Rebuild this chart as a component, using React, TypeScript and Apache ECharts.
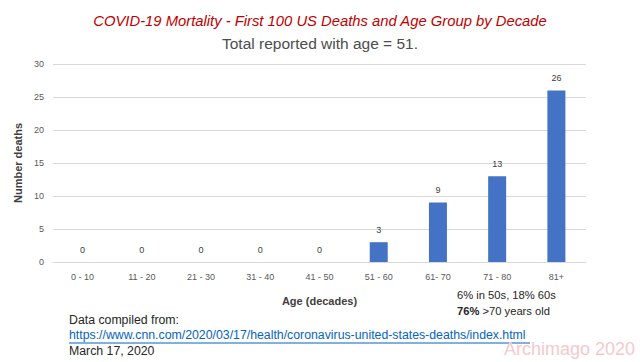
import React, { useEffect, useRef } from "react";
import * as echarts from "echarts";

const categories = ["0 - 10", "11 - 20", "21 - 30", "31 - 40", "41 - 50", "51 - 60", "61- 70", "71 - 80", "81+"];
const deaths = [0, 0, 0, 0, 0, 3, 9, 13, 26];
const yTicks = { min: 0, max: 30, interval: 5 };
const titleText = "COVID-19 Mortality - First 100 US Deaths and Age Group by Decade";
const subtitleText = "Total reported with age = 51.";
const noteLine1 = "6% in 50s, 18% 60s";
const noteBold = "76%";
const noteRest = " >70 years old";
const sourceLines = ["Data compiled from:", "https://www.cnn.com/2020/03/17/health/coronavirus-united-states-deaths/index.html", "March 17, 2020"];
const watermark = "Archimago 2020";

const FONT = "'Liberation Sans', Arial, sans-serif";

export default function App() {
  const ref = useRef<HTMLDivElement>(null);
  useEffect(() => {
    if (!ref.current) return;
    const chart = echarts.init(ref.current, null, { renderer: "svg" });
    chart.setOption({
      animation: false,
      backgroundColor: "#ffffff",
      title: {
        text: titleText,
        subtext: subtitleText,
        left: "center",
        top: 8,
        itemGap: 7,
        textStyle: { color: "#C00000", fontStyle: "italic", fontSize: 14.8, fontWeight: "normal", fontFamily: FONT },
        subtextStyle: { color: "#4d4d4d", fontSize: 15.5, fontFamily: FONT },
      },
      grid: { left: 53, right: 54, top: 64, bottom: 100 },
      xAxis: {
        type: "category",
        data: categories,
        name: "Age (decades)",
        nameLocation: "middle",
        nameGap: 33,
        nameTextStyle: { color: "#404040", fontWeight: "bold", fontSize: 11, fontFamily: FONT },
        axisLine: { lineStyle: { color: "#d9d9d9" } },
        axisTick: { show: false },
        axisLabel: { color: "#595959", fontSize: 9, margin: 10, fontFamily: FONT },
      },
      yAxis: {
        type: "value",
        min: yTicks.min,
        max: yTicks.max,
        interval: yTicks.interval,
        name: "Number deaths",
        nameLocation: "middle",
        nameGap: 26,
        nameRotate: 90,
        nameTextStyle: { color: "#404040", fontWeight: "bold", fontSize: 11, fontFamily: FONT },
        axisLine: { show: false },
        axisTick: { show: false },
        axisLabel: { color: "#595959", fontSize: 9, margin: 9, fontFamily: FONT },
        splitLine: { lineStyle: { color: "#d9d9d9" } },
      },
      series: [
        {
          type: "bar",
          data: deaths,
          barWidth: 18,
          itemStyle: { color: "#4472C4" },
          label: { show: true, position: "top", distance: 8, color: "#404040", fontSize: 9, fontFamily: FONT },
        },
      ],
      graphic: [
        {
          type: "text",
          left: 457,
          top: 289,
          style: { text: noteLine1, fill: "#262626", fontSize: 11.2, fontFamily: FONT },
        },
        {
          type: "text",
          left: 457,
          top: 305,
          style: {
            text: "{b|" + noteBold + "}{r|" + noteRest + "}",
            fontSize: 11.2,
            fontFamily: FONT,
            rich: {
              b: { fontWeight: "bold", fill: "#262626", fontSize: 11.2, fontFamily: FONT },
              r: { fill: "#262626", fontSize: 11.2, fontFamily: FONT },
            },
          },
        },
        {
          type: "text",
          left: 69,
          top: 314,
          style: { text: sourceLines[0], fill: "#262626", fontSize: 12.3, fontFamily: FONT },
        },
        {
          type: "text",
          left: 69,
          top: 329,
          style: { text: sourceLines[1], fill: "#0563C1", fontSize: 12.3, fontFamily: FONT },
        },
        {
          type: "line",
          shape: { x1: 69, y1: 343, x2: 530, y2: 343 },
          style: { stroke: "#0563C1", lineWidth: 1 },
        },
        {
          type: "text",
          left: 69,
          top: 345,
          style: { text: sourceLines[2], fill: "#262626", fontSize: 12.3, fontFamily: FONT },
        },
        {
          type: "text",
          right: 5,
          top: 340,
          style: { text: watermark, fill: "#f4c9cd", fontSize: 18, fontFamily: FONT },
        },
      ],
    });
    return () => chart.dispose();
  }, []);
  return <div ref={ref} style={{ width: 640, height: 362, position: "fixed", left: 0, top: 0 }} />;
}
